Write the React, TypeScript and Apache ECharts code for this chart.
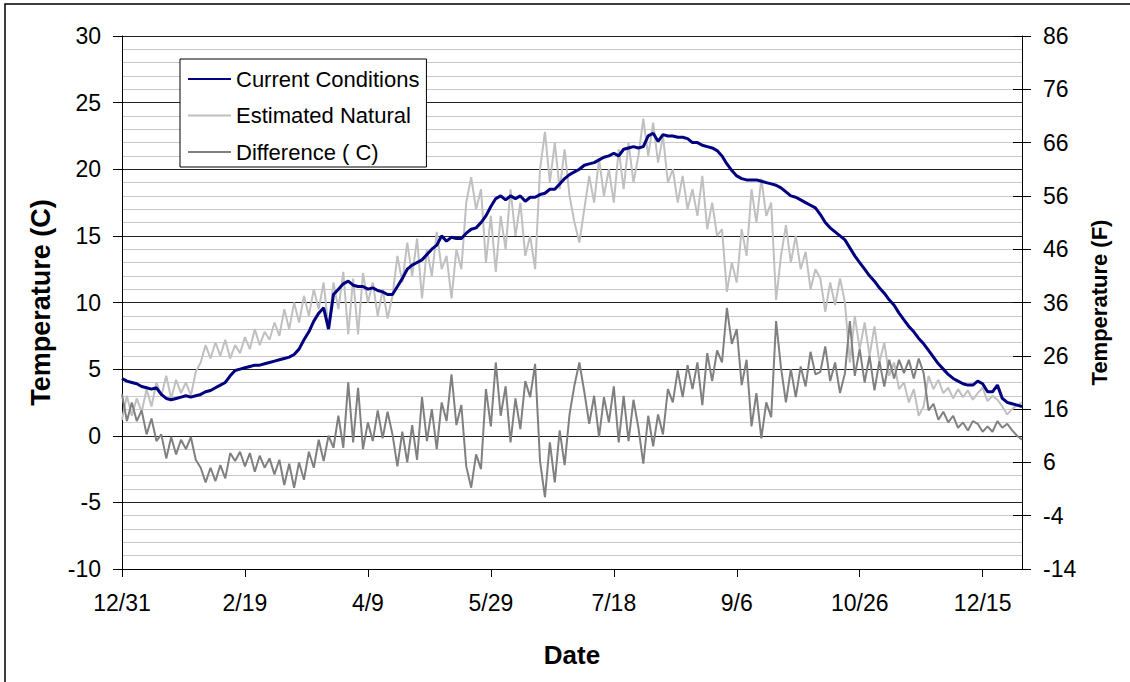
import React, { useEffect, useRef } from "react";
import * as echarts from "echarts";

// Data sampled every 2 days starting 12/31 (day 0) through day 366
const DAY_STEP = 2;

const xTickDays = [0, 50, 100, 150, 200, 250, 300, 350];
const xTickLabels = ["12/31", "2/19", "4/9", "5/29", "7/18", "9/6", "10/26", "12/15"];

const seriesNames = ["Current Conditions", "Estimated Natural", "Difference ( C)"];

const currentConditions = [
  4.3, 4.1, 4.0, 3.9, 3.7, 3.6, 3.5, 3.6, 3.1, 2.8,
  2.7, 2.8, 2.9, 3.0, 2.9, 3.0, 3.1, 3.3, 3.4, 3.6,
  3.8, 4.0, 4.5, 4.9, 5.0, 5.1, 5.2, 5.3, 5.3, 5.4,
  5.5, 5.6, 5.7, 5.8, 5.9, 6.1, 6.5, 7.2, 7.8, 8.6,
  9.2, 9.6, 8.0, 10.6, 11.0, 11.4, 11.6, 11.3, 11.2, 11.2,
  11.0, 11.1, 10.9, 10.8, 10.6, 10.6, 11.2, 11.8, 12.5, 12.8,
  13.0, 13.2, 13.6, 14.0, 14.3, 15.0, 14.6, 14.9, 14.8, 14.8,
  15.2, 15.5, 15.6, 16.0, 16.5, 17.2, 17.8, 18.0, 17.7, 18.0,
  17.8, 18.0, 17.6, 17.9, 17.9, 18.1, 18.2, 18.5, 18.5, 18.9,
  19.3, 19.6, 19.8, 20.0, 20.3, 20.4, 20.5, 20.7, 20.9, 21.0,
  21.2, 21.0, 21.5, 21.6, 21.7, 21.6, 21.7, 22.5, 22.7, 22.1,
  22.6, 22.5, 22.5, 22.4, 22.4, 22.3, 22.0, 22.0, 21.8, 21.7,
  21.6, 21.4, 21.0, 20.4, 19.9, 19.5, 19.3, 19.2, 19.2, 19.2,
  19.1, 19.0, 18.9, 18.8, 18.6, 18.3, 18.0, 17.9, 17.7, 17.5,
  17.3, 17.1, 16.6, 16.0, 15.6, 15.3, 15.0, 14.7, 14.1, 13.5,
  13.0, 12.5, 12.0, 11.6, 11.1, 10.7, 10.2, 9.8, 9.2, 8.7,
  8.2, 7.8, 7.3, 6.9, 6.4, 5.9, 5.4, 5.0, 4.6, 4.3,
  4.1, 3.9, 3.8, 3.8, 4.1, 3.9, 3.3, 3.3, 3.8, 2.8,
  2.5, 2.4, 2.3, 2.2,
];

const estimatedNatural = [
  1.2, 3.0, 1.5, 2.8, 1.8, 3.5, 2.2, 4.0, 3.0, 4.5,
  2.8, 4.2, 3.2, 4.0, 3.0, 4.8, 5.5, 6.8, 5.8, 7.0,
  6.0, 7.2, 5.8, 6.8, 6.2, 7.4, 6.5, 8.0, 6.8, 7.8,
  7.2, 8.5, 7.5, 9.5, 8.0, 10.0, 8.5, 10.5, 9.0, 11.0,
  9.5, 11.5, 8.0, 11.5, 9.5, 12.3, 7.6, 11.8, 7.6, 12.2,
  10.0, 11.5, 9.0, 11.0, 8.8, 10.5, 13.5, 11.5, 14.5, 12.0,
  14.8, 10.3, 14.0, 12.0, 15.3, 12.5, 13.5, 10.3, 14.0, 12.5,
  17.5, 19.4, 17.0, 18.5, 13.0, 16.5, 12.3, 16.5, 14.0, 18.5,
  15.0, 17.5, 13.5, 15.0, 12.5, 20.0, 22.8, 19.0, 22.0, 18.5,
  21.5, 18.0, 16.0, 14.5, 17.0, 19.5, 17.5, 20.8, 18.0, 20.0,
  17.5, 21.5, 18.5, 22.0, 19.0, 21.0, 23.8, 21.0, 23.5, 20.5,
  22.5, 19.0, 20.0, 17.5, 19.5, 17.0, 18.5, 16.5, 19.5, 15.5,
  17.5, 15.0, 15.5, 10.8, 13.0, 11.5, 15.5, 13.5, 18.5, 16.0,
  19.3, 16.5, 17.5, 10.2, 13.5, 15.8, 13.0, 15.0, 12.5, 13.8,
  11.0, 12.5, 11.8, 9.3, 11.5, 9.8, 11.8, 10.0, 5.5, 9.0,
  6.5, 8.5, 6.0, 8.2, 5.5, 7.0, 4.5, 5.5, 3.5, 4.0,
  2.5, 3.5, 1.5, 2.2, 4.5, 3.5, 4.2, 3.2, 3.6, 2.8,
  3.5, 2.9, 3.4, 2.7, 3.2, 3.6, 2.6, 3.0, 2.7, 2.2,
  1.6, 2.0, 2.3, 2.5,
];

const differenceC = [
  3.1, 1.1, 2.5, 1.1, 1.9, 0.1, 1.3, -0.4, 0.1, -1.7,
  -0.1, -1.4, -0.3, -1.0, -0.1, -1.8, -2.4, -3.5, -2.4, -3.4,
  -2.2, -3.2, -1.3, -1.9, -1.2, -2.3, -1.3, -2.7, -1.5, -2.4,
  -1.7, -2.9, -1.8, -3.7, -2.1, -3.9, -2.0, -3.3, -1.2, -2.4,
  -0.3, -1.9, 0.0, -0.9, 1.5, -0.9, 4.0, -0.5, 3.6, -1.0,
  1.0, -0.4, 1.9, -0.2, 1.8, 0.1, -2.3, 0.3, -2.0, 0.8,
  -1.8, 2.9, -0.4, 2.0, -1.0, 2.5, 1.1, 4.6, 0.8, 2.3,
  -2.3, -3.9, -1.4, -2.5, 3.5, 0.7, 5.5, 1.5, 3.7, -0.5,
  2.8, 0.5, 4.1, 2.9, 5.4, -1.9, -4.6, -0.5, -3.5, 0.4,
  -2.2, 1.6, 3.8, 5.5, 3.3, 0.9, 3.0, -0.1, 2.9, 1.0,
  3.7, -0.5, 3.0, -0.4, 2.7, 0.6, -2.1, 1.5, -0.8, 1.6,
  0.1, 3.5, 2.5, 4.9, 2.9, 5.3, 3.5, 5.5, 2.3, 6.2,
  4.1, 6.4, 5.5, 9.6, 6.9, 8.0, 3.8, 5.7, 0.7, 3.2,
  -0.2, 2.5, 1.4, 8.6, 5.1, 2.5, 5.0, 2.9, 5.2, 3.7,
  6.3, 4.6, 4.8, 6.7, 4.1, 5.5, 3.2, 4.7, 8.6, 4.5,
  6.5, 4.0, 6.0, 3.4, 5.6, 3.7, 5.7, 4.3, 5.7, 4.7,
  5.7, 4.3, 5.8, 4.7, 1.9, 2.4, 1.2, 1.8, 1.0, 1.5,
  0.6, 1.0, 0.4, 1.1, 0.9, 0.3, 0.7, 0.3, 1.1, 0.6,
  0.9, 0.4, 0.0, -0.3,
];

const FONT = "'Liberation Sans', Arial, sans-serif";

function toPairs(vals: number[]) {
  return vals.map((v, i) => [i * DAY_STEP, v]);
}

export default function App() {
  const ref = useRef<HTMLDivElement>(null);

  useEffect(() => {
    if (!ref.current) return;
    const chart = echarts.init(ref.current, undefined, { renderer: "svg" });
    const labelMap: Record<number, string> = {};
    xTickDays.forEach((d, i) => (labelMap[d] = xTickLabels[i]));

    chart.setOption({
      animation: false,
      backgroundColor: "#ffffff",
      textStyle: { fontFamily: FONT },
      graphic: [
        {
          type: "rect",
          silent: true,
          shape: { x: 5, y: 4, width: 1200, height: 800 },
          style: { fill: "none", stroke: "#000", lineWidth: 1.5 },
        },
      ],
      grid: { left: 122, right: 108, top: 36, bottom: 113, containLabel: false },
      legend: {
        orient: "vertical",
        left: 180,
        top: 59,
        data: seriesNames.map((n) => ({ name: n, icon: "rect" })),
        itemWidth: 43,
        itemHeight: 2,
        itemGap: 10.5,
        padding: [7, 7, 2, 8],
        backgroundColor: "#fff",
        borderColor: "#000",
        borderWidth: 1,
        borderRadius: 0,
        textStyle: { fontFamily: FONT, fontSize: 22, color: "#000", lineHeight: 26 },
      },
      xAxis: {
        type: "value",
        min: 0,
        max: 366,
        interval: 50,
        name: "Date",
        nameLocation: "middle",
        nameGap: 73,
        nameTextStyle: { fontFamily: FONT, fontSize: 26, fontWeight: "bold", color: "#000" },
        axisLine: { show: true, onZero: false, lineStyle: { color: "#000", width: 1 } },
        axisTick: { show: true, length: 8, inside: false, customValues: xTickDays, lineStyle: { color: "#000" } },
        axisLabel: {
          show: true,
          margin: 22,
          fontFamily: FONT,
          fontSize: 23,
          color: "#000",
          customValues: xTickDays,
          formatter: (v: number) => labelMap[v] ?? "",
        },
        splitLine: { show: false },
      },
      yAxis: [
        {
          type: "value",
          position: "left",
          min: -10,
          max: 30,
          interval: 5,
          name: "Temperature (C)",
          nameLocation: "middle",
          nameGap: 68,
          nameRotate: 90,
          nameTextStyle: { fontFamily: FONT, fontSize: 27, fontWeight: "bold", color: "#000" },
          axisLine: { show: true, lineStyle: { color: "#000", width: 1 } },
          axisTick: { show: true, length: 9, inside: false, lineStyle: { color: "#000" } },
          axisLabel: { margin: 21, fontFamily: FONT, fontSize: 23, color: "#000" },
          splitLine: { show: true, lineStyle: { color: "#222", width: 1 } },
          minorTick: { show: false, splitNumber: 5 },
          minorSplitLine: { show: true, lineStyle: { color: "#c8c8c8", width: 1 } },
        },
        {
          type: "value",
          position: "right",
          min: -14,
          max: 86,
          interval: 10,
          name: "Temperature (F)",
          nameLocation: "middle",
          nameGap: 66,
          nameRotate: 90,
          nameTextStyle: { fontFamily: FONT, fontSize: 22, fontWeight: "bold", color: "#000" },
          axisLine: { show: true, lineStyle: { color: "#000", width: 1 } },
          axisTick: { show: true, length: 9, inside: false, lineStyle: { color: "#000" } },
          axisLabel: { margin: 21, fontFamily: FONT, fontSize: 23, color: "#000" },
          splitLine: { show: false },
        },
        {
          type: "value",
          position: "right",
          min: -14,
          max: 86,
          interval: 10,
          axisLine: { show: false },
          axisTick: { show: true, length: 9, inside: true, lineStyle: { color: "#000" } },
          axisLabel: { show: false },
          splitLine: { show: false },
        },
      ],
      series: [
        {
          name: seriesNames[0],
          type: "line",
          data: toPairs(currentConditions),
          showSymbol: false,
          symbol: "none",
          z: 4,
          lineStyle: { color: "#000080", width: 3 },
          itemStyle: { color: "#000080" },
        },
        {
          name: seriesNames[1],
          type: "line",
          data: toPairs(estimatedNatural),
          showSymbol: false,
          symbol: "none",
          z: 2,
          lineStyle: { color: "#c0c0c0", width: 2 },
          itemStyle: { color: "#c0c0c0" },
        },
        {
          name: seriesNames[2],
          type: "line",
          data: toPairs(differenceC),
          showSymbol: false,
          symbol: "none",
          z: 3,
          lineStyle: { color: "#808080", width: 2 },
          itemStyle: { color: "#808080" },
        },
      ],
    });
    return () => chart.dispose();
  }, []);

  return (
    <div
      ref={ref}
      style={{ position: "absolute", left: 0, top: 0, width: 1130, height: 682, background: "#fff" }}
    />
  );
}
